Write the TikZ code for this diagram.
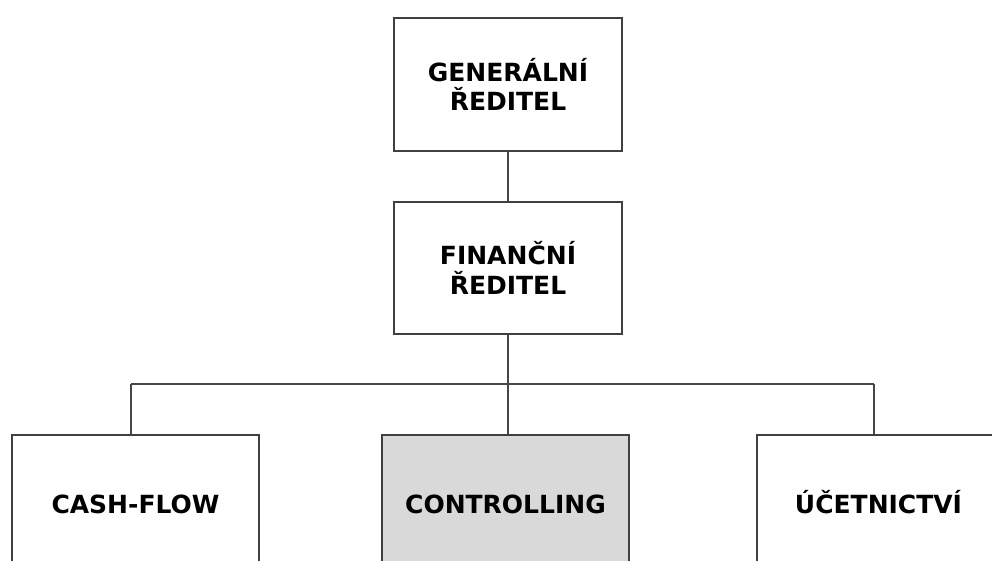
\documentclass[tikz,border=0pt]{standalone}
\usepackage{fontspec}
\setmainfont{DejaVu Sans}
\begin{document}
\begin{tikzpicture}[x=1pt,y=-1pt,
  box/.style={draw=black!75,line width=1.4pt,fill=white,inner sep=0pt,
    align=center,font=\bfseries\fontsize{25}{29.5}\selectfont},
  link/.style={draw=black!72,line width=1.4pt}]
\useasboundingbox (0,0) rectangle (992,561);
\clip (0,0) rectangle (992,561);

% management levels
\node[box,minimum width=228pt,minimum height=133pt] (gen) at (508,84.5) {GENERÁLNÍ\\ŘEDITEL};
\node[box,minimum width=228pt,minimum height=132pt] (fin) at (508,268) {FINANČNÍ\\ŘEDITEL};

% departments (boxes run past the lower edge)
\node[box,minimum width=247pt,minimum height=134pt] (cash) at (135.5,502) {\vphantom{Ú}CASH-FLOW};
\node[box,fill=black!15,minimum width=247pt,minimum height=134pt] (ctrl) at (505.5,502) {\vphantom{Ú}CONTROLLING};
\node[box,minimum width=243pt,minimum height=134pt] (acc) at (878.5,502) {ÚČETNICTVÍ};

% connectors
\coordinate (bus) at (508,384);
\coordinate (jl) at (131,384);
\coordinate (jm) at (508,384);
\coordinate (jr) at (874,384);
\draw[link] (gen.south) -- (fin.north);
\draw[link] (fin.south) -- (bus);
\draw[link] (jl) -- (jr);
\draw[link] (jl) -- (jl |- cash.north);
\draw[link] (jm) -- (jm |- ctrl.north);
\draw[link] (jr) -- (jr |- acc.north);
\end{tikzpicture}
\end{document}
